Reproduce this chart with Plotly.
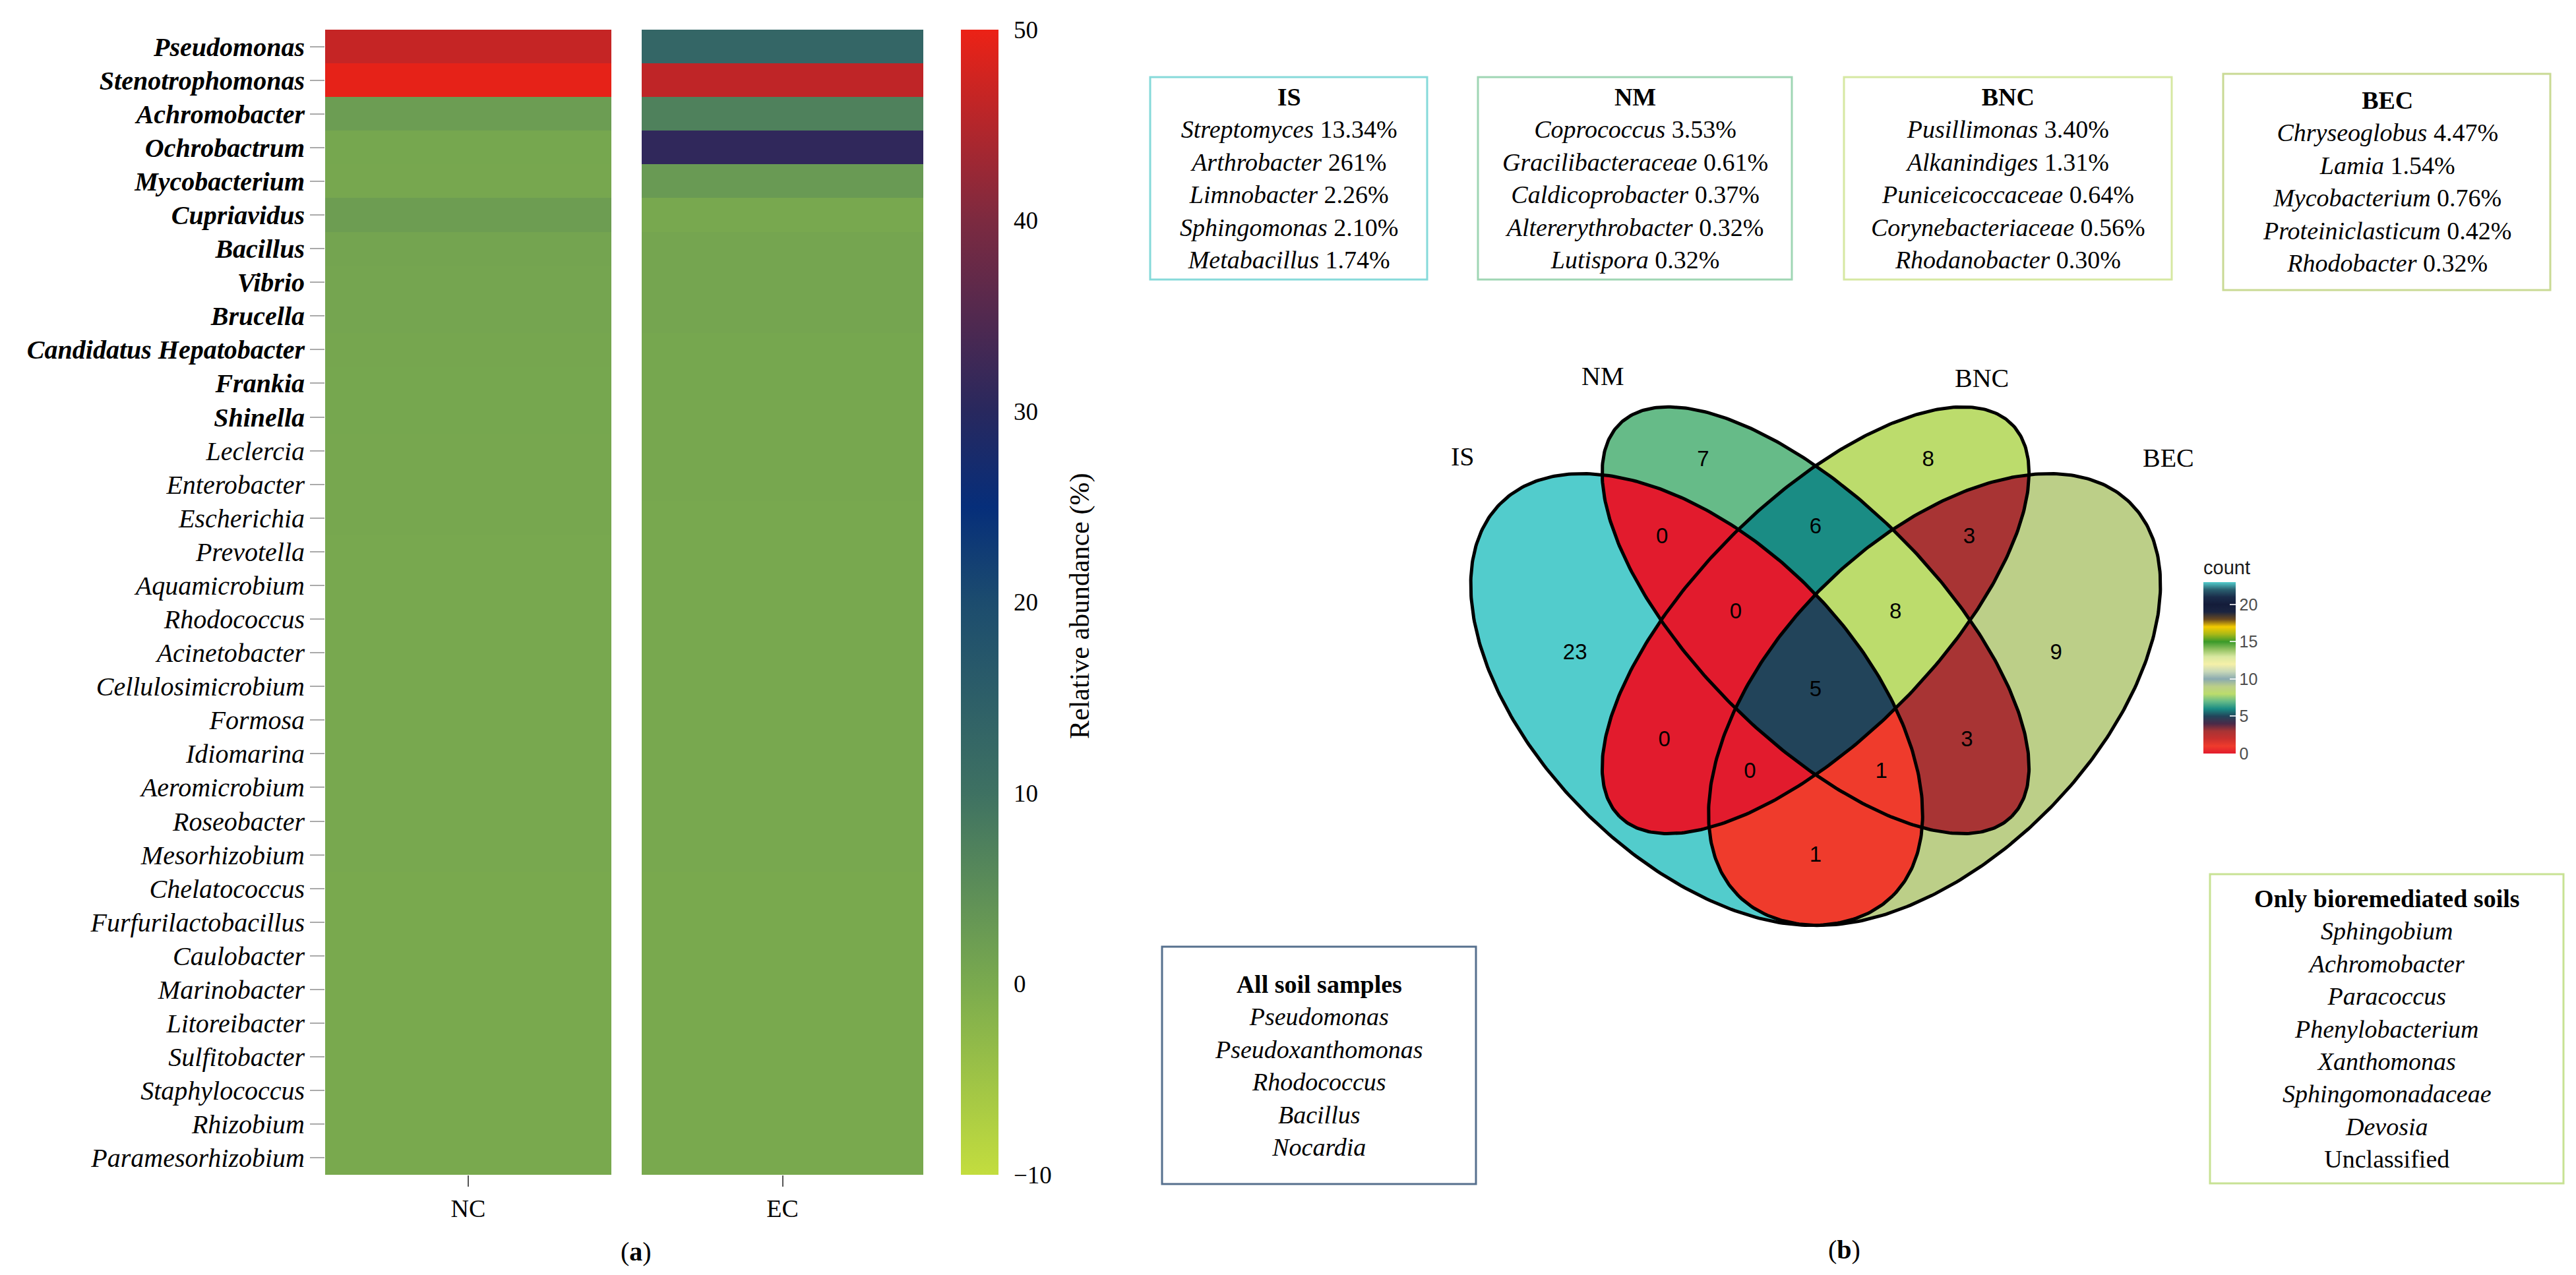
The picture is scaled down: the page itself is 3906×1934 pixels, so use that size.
import numpy as np
import plotly.graph_objects as go

W, H = 3906, 1934

# ---------------- data: heatmap (a) ----------------
genera = ["Pseudomonas", "Stenotrophomonas", "Achromobacter", "Ochrobactrum", "Mycobacterium",
          "Cupriavidus", "Bacillus", "Vibrio", "Brucella", "Candidatus Hepatobacter", "Frankia",
          "Shinella", "Leclercia", "Enterobacter", "Escherichia", "Prevotella", "Aquamicrobium",
          "Rhodococcus", "Acinetobacter", "Cellulosimicrobium", "Formosa", "Idiomarina",
          "Aeromicrobium", "Roseobacter", "Mesorhizobium", "Chelatococcus", "Furfurilactobacillus",
          "Caulobacter", "Marinobacter", "Litoreibacter", "Sulfitobacter", "Staphylococcus",
          "Rhizobium", "Paramesorhizobium"]
n_bold = 12
nc_values = [46.5, 49.5, 2.3, 0.6, 0.5, 2.2, 1.0, 0.9, 0.8, 0.7, 0.6, 0.6, 0.5, 0.5, 0.5, 0.4,
             0.4, 0.4, 0.4, 0.3, 0.3, 0.3, 0.3, 0.3, 0.3, 0.2, 0.2, 0.2, 0.2, 0.2, 0.2, 0.2, 0.1, 0.1]
ec_values = [13.0, 46.0, 7.2, 31.0, 2.8, 0.4, 0.9, 0.8, 0.8, 0.6, 0.6, 0.5, 0.5, 0.5, 0.4, 0.4,
             0.4, 0.4, 0.4, 0.3, 0.3, 0.3, 0.3, 0.3, 0.3, 0.2, 0.2, 0.2, 0.2, 0.2, 0.2, 0.2, 0.1, 0.1]
samples = ["NC", "EC"]
heat_ticks = [-10, 0, 10, 20, 30, 40, 50]
heat_title = "Relative abundance (%)"

# ---------------- data: Venn (b) ----------------
venn_sets = ["IS", "NM", "BNC", "BEC"]
venn_regions = ["1000", "0100", "0010", "0001", "1100", "0110", "0011", "1010", "0101",
                "1001", "1110", "0111", "1011", "1101", "1111"]
venn_counts = [23, 7, 8, 9, 0, 6, 3, 0, 3, 1, 0, 8, 0, 1, 5]
count_ticks = [0, 5, 10, 15, 20]

is_taxa = ["Streptomyces", "Arthrobacter", "Limnobacter", "Sphingomonas", "Metabacillus"]
is_pct = ["13.34%", "261%", "2.26%", "2.10%", "1.74%"]
nm_taxa = ["Coprococcus", "Gracilibacteraceae", "Caldicoprobacter", "Altererythrobacter", "Lutispora"]
nm_pct = ["3.53%", "0.61%", "0.37%", "0.32%", "0.32%"]
bnc_taxa = ["Pusillimonas", "Alkanindiges", "Puniceicoccaceae", "Corynebacteriaceae", "Rhodanobacter"]
bnc_pct = ["3.40%", "1.31%", "0.64%", "0.56%", "0.30%"]
bec_taxa = ["Chryseoglobus", "Lamia", "Mycobacterium", "Proteiniclasticum", "Rhodobacter"]
bec_pct = ["4.47%", "1.54%", "0.76%", "0.42%", "0.32%"]
all_soil = ["Pseudomonas", "Pseudoxanthomonas", "Rhodococcus", "Bacillus", "Nocardia"]
only_bio = ["Sphingobium", "Achromobacter", "Paracoccus", "Phenylobacterium", "Xanthomonas",
            "Sphingomonadaceae", "Devosia"]
only_bio_extra = "Unclassified"

# ---------------- styles ----------------
SERIF = "Liberation Serif"
SANS = "Liberation Sans"

heat_stops = [(-10, "#C3DD3E"), (0, "#7AAA4E"), (10, "#3E7162"), (20, "#1C4C6E"),
              (25, "#062E7A"), (30, "#28285E"), (40, "#7C2A40"), (50, "#EC2216")]
heat_scale = [[(v + 10) / 60.0, c] for v, c in heat_stops]

venn_stops = [(0, "#E21B2D"), (1, "#EF3B2C"), (2, "#C8302E"), (3, "#A83434"), (4, "#4A2A48"),
              (5, "#22445A"), (6, "#1A8C84"), (7, "#66BB88"), (8, "#BCDC6C"), (9, "#BCCF88"),
              (10, "#8AAAB0"), (11, "#C8D8B8"), (12, "#F5F0A8"), (13, "#D8E8A0"), (14, "#90C060"),
              (15, "#3A9A2A"), (16, "#A8B818"), (17, "#F5CC00"), (18, "#6A4A20"), (19, "#1A2440"),
              (20, "#141C3A"), (21, "#1A2C4A"), (22, "#2A6070"), (23, "#52CCCC")]
vmax = max(venn_counts)
venn_scale = [[v / vmax, c] for v, c in venn_stops]


def px(x):
    return x / W


def py(y):
    return 1 - y / H


fig = go.Figure()

# ---------------- heatmap traces ----------------
fig.add_trace(go.Heatmap(x=[samples[0]], y=genera, z=[[v] for v in nc_values],
                         coloraxis="coloraxis", xaxis="x", yaxis="y", hoverinfo="skip"))
fig.add_trace(go.Heatmap(x=[samples[1]], y=genera, z=[[v] for v in ec_values],
                         coloraxis="coloraxis", xaxis="x2", yaxis="y", hoverinfo="skip"))

ticktext = [("<b><i>%s</i></b>" % g) if i < n_bold else ("<i>%s</i>" % g) for i, g in enumerate(genera)]

# ---------------- Venn geometry (pixel space, 4-ellipse layout) ----------------
X0, S, YOFF = 2745.0, 1202.0, 416.0
ell_unit = [(0.35, 0.53, 0.35, 0.20, 45), (0.50, 0.43, 0.35, 0.15, 45),
            (0.50, 0.43, 0.35, 0.15, 135), (0.65, 0.53, 0.35, 0.20, 135)]
ellipses = [(X0 + (cx - 0.5) * S, YOFF + cy * S, a * S, b * S, np.deg2rad(t)) for cx, cy, a, b, t in ell_unit]

VX0, VX1, VY0, VY1 = 2150, 3330, 540, 1440
step = 2
gx = np.arange(VX0, VX1, step) + step / 2
gy = np.arange(VY0, VY1, step) + step / 2
GX, GY = np.meshgrid(gx, gy)


def inside(e, X, Y):
    cx, cy, a, b, t = e
    dx, dy = X - cx, Y - cy
    u = dx * np.cos(t) + dy * np.sin(t)
    v = -dx * np.sin(t) + dy * np.cos(t)
    return (u / a) ** 2 + (v / b) ** 2 <= 1


members = [inside(e, GX, GY) for e in ellipses]
code = np.full(GX.shape, "", dtype=object)
for m in members:
    code = code + np.where(m, "1", "0")
zv = np.full(GX.shape, np.nan)
lookup = dict(zip(venn_regions, venn_counts))
label_x, label_y, label_t = [], [], []
for reg, cnt in lookup.items():
    mask = code == reg
    if not mask.any():
        continue
    zv[mask] = cnt
    # region centroid
    label_x.append(float(GX[mask].mean()))
    label_y.append(float(GY[mask].mean()))
    label_t.append(str(cnt))

fig.add_trace(go.Heatmap(x=gx, y=gy, z=zv, coloraxis="coloraxis2", xaxis="x3", yaxis="y3",
                         zsmooth=False, hoverinfo="skip"))

tt = np.linspace(0, 2 * np.pi, 400)
for (cx, cy, a, b, t) in ellipses:
    ex = cx + a * np.cos(tt) * np.cos(t) - b * np.sin(tt) * np.sin(t)
    ey = cy + a * np.cos(tt) * np.sin(t) + b * np.sin(tt) * np.cos(t)
    fig.add_trace(go.Scatter(x=ex, y=ey, mode="lines", line=dict(color="black", width=5),
                             xaxis="x3", yaxis="y3", showlegend=False, hoverinfo="skip"))

fig.add_trace(go.Scatter(x=label_x, y=label_y, text=label_t, mode="text",
                         textfont=dict(family=SANS, size=33, color="black"),
                         xaxis="x3", yaxis="y3", showlegend=False, hoverinfo="skip"))

# ---------------- layout ----------------
fig.update_layout(
    width=W, height=H, margin=dict(l=0, r=0, t=0, b=0),
    paper_bgcolor="white", plot_bgcolor="rgba(0,0,0,0)", showlegend=False,
    xaxis=dict(domain=[px(485), px(919)], anchor="y", type="category", showgrid=False, zeroline=False,
               ticks="outside", ticklen=17, tickwidth=2, tickcolor="#555555",
               tickfont=dict(family=SERIF, size=38, color="black")),
    xaxis2=dict(domain=[px(965), px(1392)], anchor="y", type="category", showgrid=False, zeroline=False,
                ticks="outside", ticklen=17, tickwidth=2, tickcolor="#555555",
                tickfont=dict(family=SERIF, size=38, color="black")),
    yaxis=dict(domain=[py(1774), py(37)], anchor="x", type="category", autorange="reversed",
               showgrid=False, zeroline=False, ticks="outside", ticklen=22, tickwidth=2,
               tickcolor="#AAAAAA", tickvals=genera, ticktext=ticktext,
               tickfont=dict(family=SERIF, size=40, color="black")),
    xaxis3=dict(domain=[px(VX0), px(VX1)], anchor="y3", range=[VX0, VX1], visible=False),
    yaxis3=dict(domain=[py(VY1), py(VY0)], anchor="x3", range=[VY1, VY0], visible=False),
    coloraxis=dict(cmin=-10, cmax=50, colorscale=heat_scale,
                   colorbar=dict(x=px(1449), xanchor="left", xpad=0, ypad=0, thickness=57,
                                 lenmode="fraction", len=1737 / H, y=py(905.5), yanchor="middle",
                                 outlinewidth=0, ticks="outside", ticklen=16,
                                 tickcolor="rgba(0,0,0,0)", tickvals=heat_ticks,
                                 tickfont=dict(family=SERIF, size=37, color="black"))),
    coloraxis2=dict(cmin=0, cmax=vmax, colorscale=venn_scale,
                    colorbar=dict(x=px(3333), xanchor="left", xpad=0, ypad=0, thickness=49,
                                  lenmode="fraction", len=(1135 - 838) / H, y=py(1135), yanchor="bottom",
                                  outlinewidth=0, ticks="inside", ticklen=9, tickwidth=2,
                                  tickcolor="rgba(255,255,255,0.8)", tickvals=count_ticks,
                                  tickfont=dict(family=SANS, size=25, color="#4D4D4D"),
                                  title=dict(text="count", side="top",
                                             font=dict(family=SANS, size=29, color="#1A1A1A")))),
)

shapes = []
annotations = []


def box(x0, y0, x1, y1, color, lines):
    shapes.append(dict(type="rect", xref="paper", yref="paper", x0=px(x0), x1=px(x1),
                       y0=py(y1), y1=py(y0), line=dict(color=color, width=3), fillcolor="rgba(0,0,0,0)"))
    annotations.append(dict(xref="paper", yref="paper", x=px((x0 + x1) / 2), y=py((y0 + y1) / 2),
                            xanchor="center", yanchor="middle", showarrow=False, align="center",
                            text="<br>".join(lines),
                            font=dict(family=SERIF, size=38, color="black")))


def pct_lines(title, taxa, pct):
    return ["<b>%s</b>" % title] + ["<i>%s</i> %s" % (t, p) for t, p in zip(taxa, pct)]


box(1736, 109, 2156, 416, "#86DADA", pct_lines("IS", is_taxa, is_pct))
box(2233, 109, 2709, 416, "#9FD6B4", pct_lines("NM", nm_taxa, nm_pct))
box(2788, 109, 3285, 416, "#D6E8A2", pct_lines("BNC", bnc_taxa, bnc_pct))
box(3363, 104, 3859, 432, "#C9DA94", pct_lines("BEC", bec_taxa, bec_pct))
box(1754, 1428, 2230, 1788, "#56708E", ["<b>All soil samples</b>"] + ["<i>%s</i>" % t for t in all_soil])
box(3343, 1318, 3879, 1787, "#C8E294",
    ["<b>Only bioremediated soils</b>"] + ["<i>%s</i>" % t for t in only_bio] + [only_bio_extra])

# colourbar title of the heatmap
annotations.append(dict(xref="paper", yref="paper", x=px(1630), y=py(912), xanchor="center",
                        yanchor="middle", showarrow=False, text=heat_title, textangle=-90,
                        font=dict(family=SERIF, size=42, color="black")))

set_label_pos = [(2210, 684), (2422, 563), (2997, 566), (3280, 686)]
for name, (lx, ly) in zip(venn_sets, set_label_pos):
    annotations.append(dict(xref="paper", yref="paper", x=px(lx), y=py(ly), xanchor="center",
                            yanchor="middle", showarrow=False, text=name,
                            font=dict(family=SERIF, size=40, color="black")))

annotations.append(dict(xref="paper", yref="paper", x=px(956), y=py(1890), xanchor="center",
                        yanchor="middle", showarrow=False, text="(<b>a</b>)",
                        font=dict(family=SERIF, size=40, color="black")))
annotations.append(dict(xref="paper", yref="paper", x=px(2788), y=py(1887), xanchor="center",
                        yanchor="middle", showarrow=False, text="(<b>b</b>)",
                        font=dict(family=SERIF, size=40, color="black")))

fig.update_layout(shapes=shapes, annotations=annotations)
fig.write_html("out.html")
